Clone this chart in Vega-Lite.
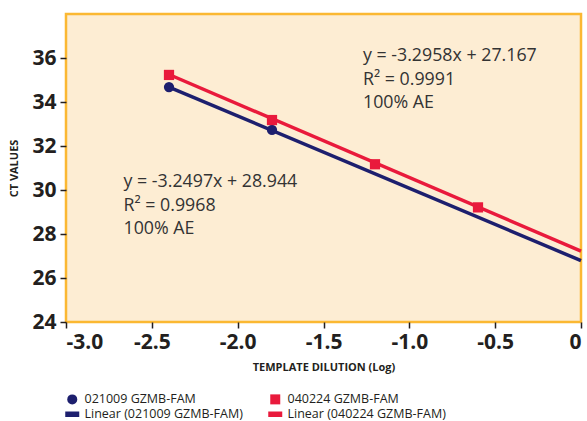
{
  "$schema": "https://vega.github.io/schema/vega-lite/v6.json",
  "autosize": {"type": "none"},
  "width": 515,
  "height": 308,
  "padding": {"left": 66, "top": 14, "right": 6, "bottom": 99},
  "background": "white",
  "config": {
    "font": "Open Sans",
    "view": {"fill": "#FDEDD3", "stroke": "#FBB832", "strokeWidth": 2.5},
    "axis": {"grid": false, "domain": false, "tickColor": "#231F20", "tickWidth": 1.5, "tickSize": 6,
      "labelFont": "Open Sans", "labelFontWeight": "bold", "labelFontSize": 21, "labelColor": "#231F20",
      "titleFont": "Open Sans", "titleFontWeight": "bold", "titleFontSize": 11, "titleColor": "#231F20"},
    "legend": {"labelFont": "Open Sans", "labelFontSize": 12.5, "labelColor": "#231F20"}
  },
  "datasets": {
    "pts": [
      {"x": -2.4, "ct": 34.68, "series": "021009 GZMB-FAM"},
      {"x": -1.8, "ct": 32.73, "series": "021009 GZMB-FAM"},
      {"x": -2.4, "ct": 35.23, "series": "040224 GZMB-FAM"},
      {"x": -1.8, "ct": 33.18, "series": "040224 GZMB-FAM"},
      {"x": -1.2, "ct": 31.17, "series": "040224 GZMB-FAM"},
      {"x": -0.6, "ct": 29.21, "series": "040224 GZMB-FAM"}
    ],
    "fit": [
      {"x": -2.4, "ct": 34.68, "series": "Linear (021009 GZMB-FAM)"},
      {"x": 0, "ct": 26.79, "series": "Linear (021009 GZMB-FAM)"},
      {"x": -2.4, "ct": 35.25, "series": "Linear (040224 GZMB-FAM)"},
      {"x": 0, "ct": 27.22, "series": "Linear (040224 GZMB-FAM)"}
    ],
    "notes": [
      {"x": -1.27, "ct": 36.5, "l1": "y = -3.2958x + 27.167", "l2": "R\u00b2 = 0.9991", "l3": "100% AE"},
      {"x": -2.665, "ct": 30.76, "l1": "y = -3.2497x + 28.944", "l2": "R\u00b2 = 0.9968", "l3": "100% AE"}
    ]
  },
  "layer": [
    {
      "data": {"name": "fit"},
      "transform": [{"filter": "datum.series == 'Linear (021009 GZMB-FAM)'"}],
      "mark": {"type": "line", "color": "#1D1F6E", "strokeWidth": 3.5},
      "encoding": {
        "x": {"field": "x", "type": "quantitative",
          "scale": {"domain": [-3, 0], "nice": false, "zero": false},
          "axis": {"values": [-3, -2.5, -2, -1.5, -1, -0.5, 0], "labelExpr": "datum.value == 0 ? '0' : replace(format(datum.value, '.1f'), '\u2212', '-')", "labelPadding": 3, "title": "TEMPLATE DILUTION (Log)", "titlePadding": 9}},
        "y": {"field": "ct", "type": "quantitative",
          "scale": {"domain": [24, 38], "nice": false, "zero": false},
          "axis": {"values": [24, 26, 28, 30, 32, 34, 36], "labelPadding": 4, "title": "CT VALUES", "titlePadding": 12}}
      }
    },
    {
      "data": {"name": "fit"},
      "transform": [{"filter": "datum.series == 'Linear (040224 GZMB-FAM)'"}],
      "mark": {"type": "line", "color": "#E91A3C", "strokeWidth": 3.5},
      "encoding": {
        "x": {"field": "x", "type": "quantitative"},
        "y": {"field": "ct", "type": "quantitative"}
      }
    },
    {
      "data": {"name": "pts"},
      "mark": {"type": "point", "filled": true, "opacity": 1, "size": 105},
      "encoding": {
        "x": {"field": "x", "type": "quantitative"},
        "y": {"field": "ct", "type": "quantitative"},
        "color": {"field": "series", "type": "nominal",
          "scale": {"domain": ["021009 GZMB-FAM", "Linear (021009 GZMB-FAM)", "040224 GZMB-FAM", "Linear (040224 GZMB-FAM)"],
            "range": ["#1D1F6E", "#1D1F6E", "#E91A3C", "#E91A3C"]},
          "legend": {"title": null, "orient": "none", "legendX": 0, "legendY": 379, "columns": 2, "columnPadding": 25, "rowPadding": 2, "symbolSize": 100, "labelOffset": 6}},
        "shape": {"field": "series", "type": "nominal",
          "scale": {"domain": ["021009 GZMB-FAM", "Linear (021009 GZMB-FAM)", "040224 GZMB-FAM", "Linear (040224 GZMB-FAM)"],
            "range": ["circle", "M-1.4,-0.55H1.4V0.55H-1.4Z", "square", "M-1.4,-0.55H1.4V0.55H-1.4Z"]},
          "legend": {"title": null, "orient": "none", "legendX": 0, "legendY": 379, "columns": 2, "columnPadding": 25, "rowPadding": 2, "symbolSize": 100, "labelOffset": 6}}
      }
    },
    {
      "data": {"name": "notes"},
      "mark": {"type": "text", "align": "left", "baseline": "top", "fontSize": 17.8, "color": "#333333", "font": "Open Sans"},
      "encoding": {
        "x": {"field": "x", "type": "quantitative"},
        "y": {"field": "ct", "type": "quantitative"},
        "text": {"field": "l1"}
      }
    },
    {
      "data": {"name": "notes"},
      "mark": {"type": "text", "align": "left", "baseline": "top", "fontSize": 17.8, "color": "#333333", "font": "Open Sans", "dy": 23.5},
      "encoding": {
        "x": {"field": "x", "type": "quantitative"},
        "y": {"field": "ct", "type": "quantitative"},
        "text": {"field": "l2"}
      }
    },
    {
      "data": {"name": "notes"},
      "mark": {"type": "text", "align": "left", "baseline": "top", "fontSize": 17.8, "color": "#333333", "font": "Open Sans", "dy": 47},
      "encoding": {
        "x": {"field": "x", "type": "quantitative"},
        "y": {"field": "ct", "type": "quantitative"},
        "text": {"field": "l3"}
      }
    }
  ]
}
